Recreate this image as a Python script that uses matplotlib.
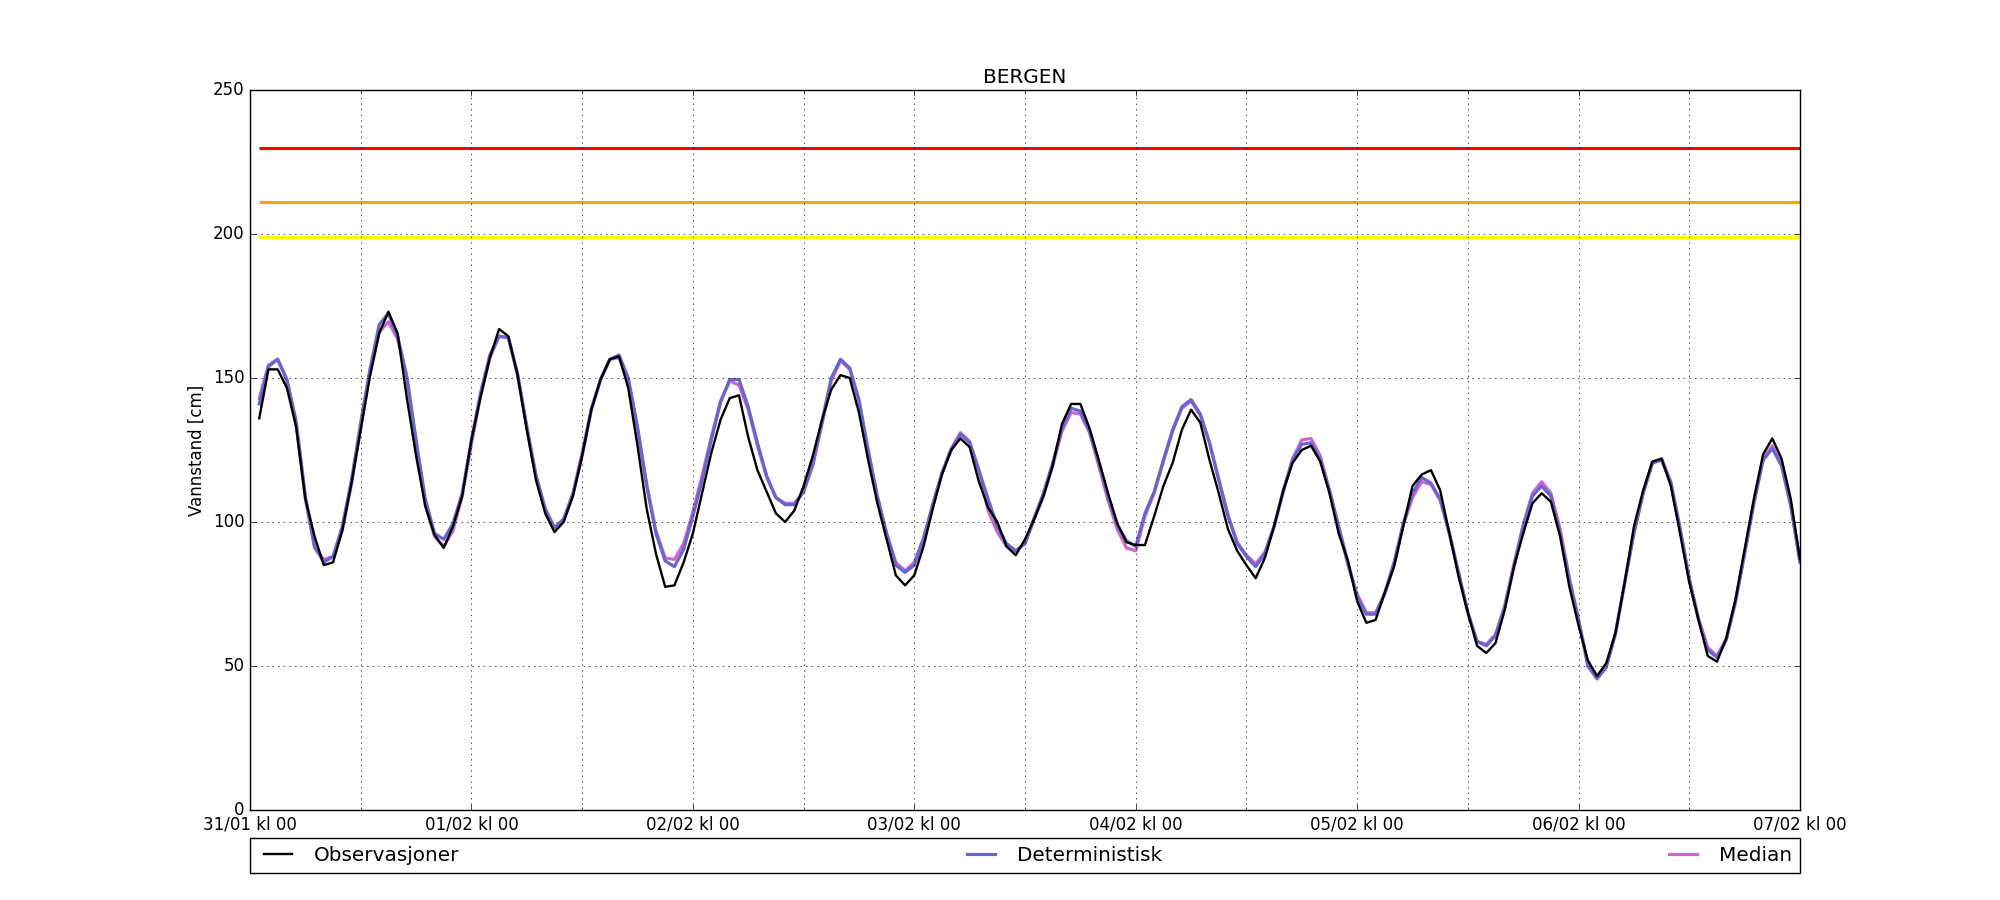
import matplotlib
matplotlib.use("Agg")
import matplotlib.pyplot as plt
import matplotlib.dates as mdates
import numpy as np
import pandas as pd

plt.style.use("classic")

# hourly water level, 31/01 01:00 -> 07/02 00:00
times = pd.date_range("2017-01-31 01:00", periods=168, freq="h")

obs = [136, 153, 153, 146.5, 133, 108, 95, 85, 86, 97, 113.5, 132, 150.5, 165.5, 173, 165.5, 143, 123, 105.5, 95.5, 91, 98.5, 109, 128.5, 143.5, 157, 167, 164.5,
       151, 132, 114.5, 103, 96.5, 100, 109, 123, 139, 149.5, 156.5, 157.5, 146.5, 126.5, 104.5, 89, 77.5, 78, 86, 96, 110, 124, 135.5, 143, 144, 129.5, 118, 110.5,
       103, 100, 104, 112.5, 123, 135.5, 146, 151, 150, 138, 121.5, 106.5, 94, 81.5, 78, 81.5, 91.5, 104.5, 116.5, 125, 129, 126, 114, 105, 100, 91.5, 88.5, 94,
       101, 109, 119.5, 134, 141, 141, 132.5, 121.5, 110, 99.5, 93, 92, 92, 102, 112.5, 120.5, 132, 139, 134.5, 121.5, 110, 97.5, 90, 85, 80.5, 87.5, 98.5, 111,
       120.5, 125, 126.5, 121, 110, 96, 86.5, 72.5, 65, 66, 75.5, 84.5, 98.5, 112.5, 116.5, 118, 111, 96, 81, 68.5, 57, 54.5, 58, 69.5, 84.5, 96, 106.5, 110,
       107, 95, 77.5, 64, 52, 46.5, 51, 61.5, 79, 98.5, 111, 121, 122, 112.5, 96, 79, 66, 53.5, 51.5, 59.5, 73, 90.5, 108, 123.5, 129, 122, 108, 87]

det = [141, 154, 156.5, 149.5, 135, 109, 91.5, 86, 88, 98.5, 114.5, 134.5, 153, 168.5, 172.5, 164.5, 150.5, 128.5, 108, 96, 94, 99.5, 110, 128.5, 145, 158, 164.5, 164,
       151.5, 133, 116, 104.5, 98, 101, 109.5, 123, 139, 149.5, 156.5, 158, 150, 133, 112.5, 96, 86.5, 84.5, 90.5, 102, 114.5, 128.5, 141.5, 149.5, 149.5, 140, 127.5, 116,
       108.5, 106, 106, 110.5, 120.5, 135, 150, 156.5, 153.5, 142.5, 125, 109, 96, 85, 82.5, 85, 94, 106, 117, 125, 130.5, 127.5, 118, 108, 98.5, 92.5, 90, 92.5,
       101.5, 110, 120.5, 132.5, 139.5, 138.5, 131.5, 120.5, 109, 99, 93.5, 91.5, 103, 110.5, 121.5, 132, 140, 142.5, 137.5, 127.5, 114.5, 102, 92.5, 88, 84.5, 89, 98.5, 111,
       121.5, 127, 127.5, 121.5, 111, 98.5, 86, 74, 68, 68, 75.5, 86, 99.5, 110, 115.5, 113.5, 108, 96, 82.5, 68.5, 58.5, 57, 60.5, 70.5, 84.5, 98.5, 109, 112.5,
       109, 96, 80, 66, 50, 45.5, 49.5, 61.5, 79, 96, 110, 120.5, 121.5, 113.5, 97.5, 80, 66, 55.5, 53, 59, 72, 89, 106.5, 121.5, 125.5, 119.5, 105.5, 86]

median = [143, 154.5, 156.5, 149, 134, 108, 91, 87, 88, 97, 113, 133, 152, 166, 169.5, 163.5, 150, 127, 106, 95, 91.5, 97, 109, 127, 144, 157, 164.5, 164,
          151, 133, 116, 104.5, 98, 101, 110, 124, 139.5, 149.5, 156.5, 157, 149.5, 132.5, 113, 97, 87.5, 87, 92.5, 103.5, 116, 129.5, 142, 149, 147.5, 139, 126.5, 115.5,
          108.5, 106.5, 106.5, 110.5, 119.5, 134, 149, 156, 153, 142, 124.5, 108.5, 96, 86, 83, 86, 94.5, 106, 117, 125.5, 131, 128, 118, 104, 96.5, 91.5, 90, 92.5,
          101, 109, 119.5, 131.5, 138, 137.5, 131, 119.5, 107.5, 97.5, 91, 90, 102, 110, 121, 131.5, 139.5, 142, 137, 127.5, 115, 102.5, 93, 88.5, 85.5, 89.5, 98.5, 110.5,
          122, 128.5, 129, 123, 111, 98, 85, 75, 68.5, 68.5, 75, 85, 99, 108.5, 114, 113, 107.5, 96, 82, 68.5, 58.5, 57.5, 61, 71, 85.5, 99, 110, 114,
          110, 97.5, 80.5, 66, 51, 46.5, 50, 61, 79, 96.5, 110, 120.5, 122, 114, 98, 80.5, 66.5, 56.5, 53.5, 59.5, 72.5, 89.5, 107, 122, 126.5, 120, 106, 86.5]

# warning levels
levels = [230, 211, 199]
level_colors = ["#ff0000", "#ffa500", "#ffff00"]

fig = plt.figure(figsize=(20, 9), facecolor="white")
ax = fig.add_axes([0.125, 0.1, 0.775, 0.8])

for lev, col in zip(levels, level_colors):
    ax.hlines(lev, times[0], times[-1], colors=col, linewidth=2.2, zorder=1)

ax.plot(times, median, color="#cc66cc", lw=2.3, label="Median", zorder=2)
ax.plot(times, det, color="#6666cc", lw=2.3, label="Deterministisk", zorder=2.5)
ax.plot(times, obs, color="black", lw=1.7, label="Observasjoner", zorder=3)

ax.set_xlim(pd.Timestamp("2017-01-31 00:00"), pd.Timestamp("2017-02-07 00:00"))
ax.set_ylim(0, 250)
ax.set_yticks(np.arange(0, 251, 50))
ax.xaxis.set_major_locator(mdates.HourLocator(byhour=[0]))
ax.xaxis.set_minor_locator(mdates.HourLocator(byhour=[12]))
ax.xaxis.set_major_formatter(mdates.DateFormatter("%d/%m kl %H"))
ax.grid(True, which="major")
ax.grid(True, which="minor", axis="x")

ax.set_title("BERGEN")
ax.set_ylabel("Vannstand [cm]")

h, l = ax.get_legend_handles_labels()
order = [2, 1, 0]
ax.legend([h[i] for i in order], [l[i] for i in order], loc="upper left",
          bbox_to_anchor=(0, -0.039, 1, 0), mode="expand", ncol=3,
          borderaxespad=0)

fig.savefig("out.png", dpi=100, facecolor="white")
